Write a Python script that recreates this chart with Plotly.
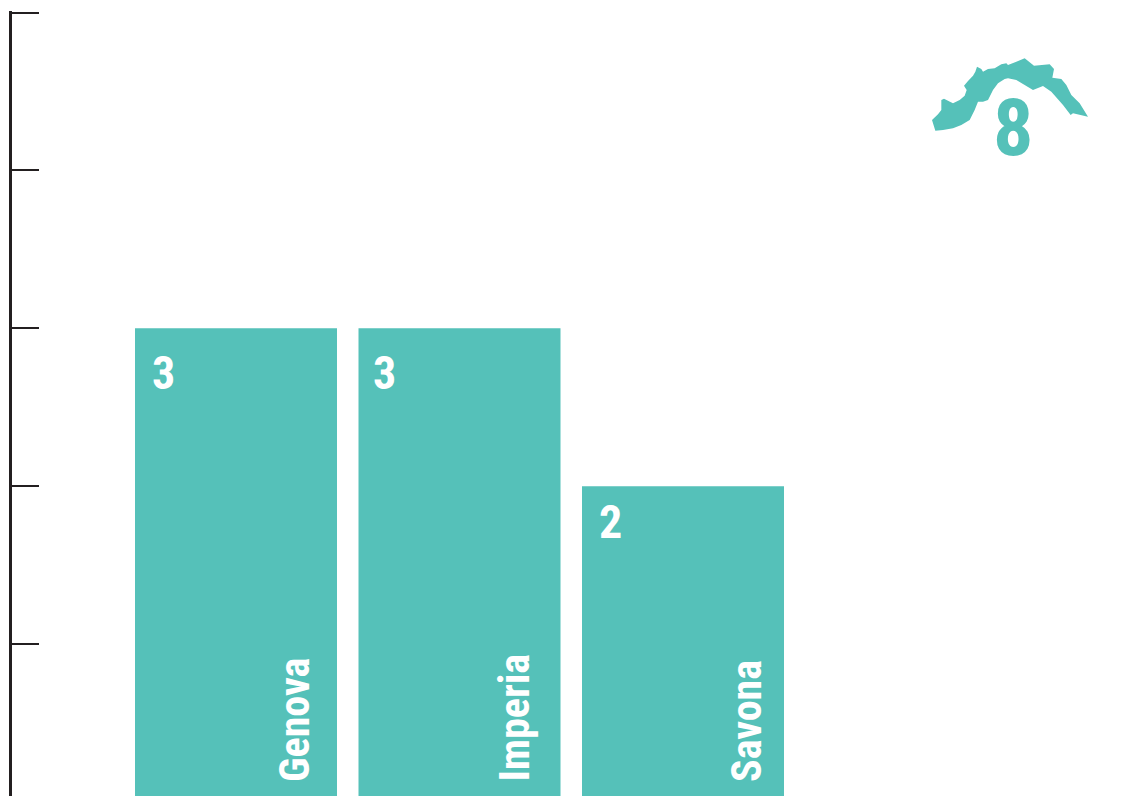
import plotly.graph_objects as go

categories = ["Genova", "Imperia", "Savona"]
values = [3, 3, 2]
total = 8
y_ticks = [1, 2, 3, 4, 5]

TEAL = "#55C1B9"
INK = "#231F20"
FONT = "Roboto Condensed"
W, H = 1123, 796
L, T = 12, 11
UNIT_Y = 158.0
UNIT_X = 223.5

icon_left_top = [(22,227),(12,195),(30,178),(40,165),(40,135),(48,131),(75,145),(95,135),(110,122),(116,105),
                 (108,92),(120,78),(135,62),(142,50),(147,35),(160,42),(165,50),(180,42),(200,40),(220,28),(235,25)]
icon_right_top = [(0,30),(25,20),(50,10),(65,22),(78,32),(125,28),(138,42),(133,68),(160,72),(175,90),(190,120),
                  (215,145),(240,185)]
icon_right_bottom = [(195,175),(188,180),(165,150),(130,110),(105,93),(75,105),(50,90),(25,75),(0,70)]
icon_left_bottom = [(230,72),(210,85),(195,105),(180,135),(165,140),(150,140),(140,165),(125,195),(100,210),(75,220),(45,225)]
RIGHT_OFFSET = 240
icon_outline = (icon_left_top + [(x + RIGHT_OFFSET, y) for x, y in icon_right_top + icon_right_bottom] + icon_left_bottom)
icon_path = "M " + " L ".join(f"{x/3:.2f},{-y/3:.2f}" for x, y in icon_outline) + " Z"

value_dx = [-86, -89, -86]
value_dy = [-16, -16, -7]
name_dx = [58, 54, 63]

y_min = 3 - (796 - 328) / UNIT_Y
y_max = 5 + 1.5 / UNIT_Y
x_min = -(236 - L) / UNIT_X
x_max = (W - 236) / UNIT_X

fig = go.Figure(go.Bar(x=list(range(len(categories))), y=values, marker=dict(color=TEAL, line=dict(width=0)),
                       width=202 / UNIT_X, hoverinfo="skip"))

annotations = []
for i, (c, v) in enumerate(zip(categories, values)):
    annotations.append(dict(x=i, y=v, xref="x", yref="y", text=f"<b>{v}</b>", showarrow=False,
                            xanchor="left", yanchor="top", xshift=value_dx[i], yshift=value_dy[i],
                            font=dict(family=FONT, size=46, color="white")))
    annotations.append(dict(x=i, y=0, xref="x", yref="paper", text=f"<b>{c}</b>", showarrow=False, textangle=-90,
                            xanchor="center", yanchor="bottom", xshift=name_dx[i], yshift=12,
                            font=dict(family=FONT, size=42, color="white")))
annotations.append(dict(x=(1013 - L) / (W - L), y=1 - (128 - T) / (H - T), xref="paper", yref="paper",
                        text=f"<b>{total}</b>", showarrow=False, xanchor="center", yanchor="middle",
                        font=dict(family=FONT, size=80, color=TEAL)))

fig.update_layout(
    width=W, height=H, margin=dict(l=L, r=0, t=T, b=0, pad=0),
    paper_bgcolor="white", plot_bgcolor="white", showlegend=False,
    xaxis=dict(range=[x_min, x_max], visible=False),
    yaxis=dict(range=[y_min, y_max], tickvals=y_ticks, showticklabels=False, ticks="inside", ticklen=27,
               tickwidth=2, tickcolor=INK, showline=True, linecolor=INK, linewidth=3, showgrid=False,
               zeroline=False),
    annotations=annotations,
    shapes=[dict(type="path", path=icon_path, xref="paper", yref="paper", xsizemode="pixel", ysizemode="pixel",
                 xanchor=(928 - L) / (W - L), yanchor=1 - (55 - T) / (H - T), fillcolor=TEAL, line=dict(width=0))],
)
fig.write_html("out.html", config={"displayModeBar": False},
               post_script="document.body.style.margin='0';document.documentElement.style.overflow='hidden';")
